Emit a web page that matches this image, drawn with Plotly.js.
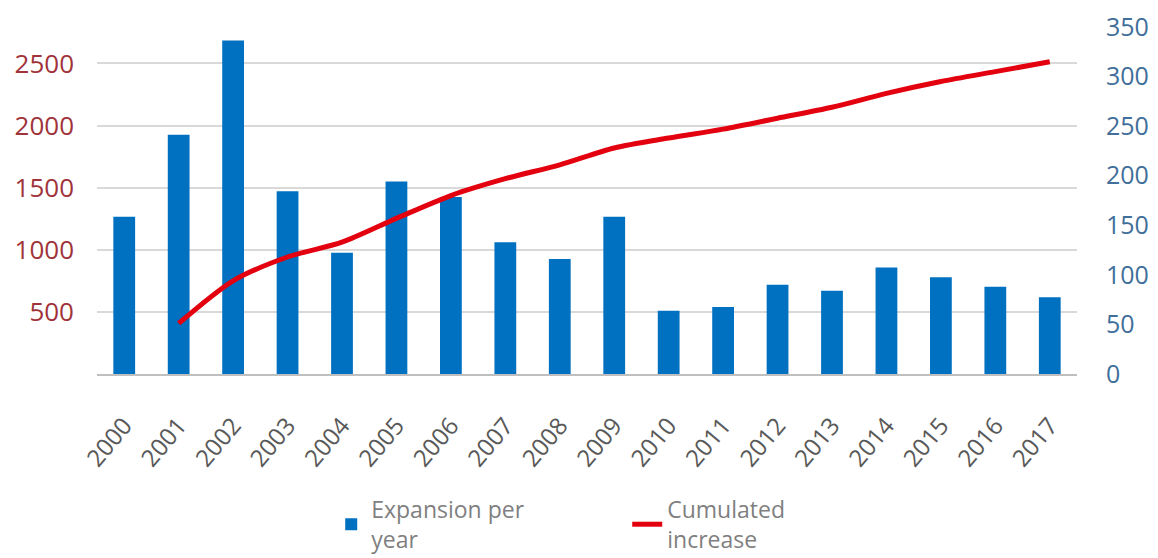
<!DOCTYPE html>
<html>
<head>
<meta charset="utf-8">
<script src="https://cdn.plot.ly/plotly-3.0.1.min.js"></script>
<style>
  html, body { margin: 0; padding: 0; background: #ffffff; }
  #chart { width: 1158px; height: 558px; }
</style>
</head>
<body>
<div id="chart"></div>
<script>
const years = ["2000","2001","2002","2003","2004","2005","2006","2007","2008","2009","2010","2011","2012","2013","2014","2015","2016","2017"];
const expansionPerYear = [1265, 1925, 2685, 1470, 975, 1550, 1425, 1060, 925, 1265, 510, 540, 718, 670, 857, 778, 702, 617];
const cumulatedIncrease = [null, 51, 94, 118, 133, 157, 180, 197, 211, 228, 238, 247, 258, 269, 283, 295, 305, 315];
const leftTicks = [500, 1000, 1500, 2000, 2500];
const rightTicks = [0, 50, 100, 150, 200, 250, 300, 350];

const FONT = "'Open Sans', 'Liberation Sans', sans-serif";

const traces = [
  {
    type: "bar",
    name: "Expansion per<br>year",
    x: years,
    y: expansionPerYear,
    width: 0.4,
    marker: { color: "#0070C0" },
    yaxis: "y"
  },
  {
    type: "scatter",
    mode: "lines",
    name: "Cumulated<br>increase",
    x: years,
    y: cumulatedIncrease,
    line: { color: "#E3000F", width: 5, shape: "spline", smoothing: 0.8 },
    yaxis: "y2"
  }
];

const layout = {
  width: 1158,
  height: 558,
  margin: { l: 97, r: 81, t: 27, b: 183.5, autoexpand: false },
  paper_bgcolor: "#ffffff",
  plot_bgcolor: "#ffffff",
  font: { family: FONT, size: 24, color: "#595959" },
  showlegend: true,
  legend: {
    orientation: "h",
    x: 0.239,
    xanchor: "left",
    y: -0.328,
    yanchor: "top",
    font: { family: FONT, size: 23, color: "#7f7f7f" },
    entrywidth: 251,
    traceorder: "normal"
  },
  xaxis: {
    type: "category",
    tickangle: -50,
    tickfont: { family: FONT, size: 24, color: "#595959" },
    showgrid: false,
    showline: true,
    linecolor: "#bfbfbf",
    linewidth: 2,
    ticks: "",
    ticklabelstandoff: 26,
    zeroline: false
  },
  yaxis: {
    range: [0, 2793],
    tickvals: leftTicks,
    ticktext: leftTicks.map(String),
    tickfont: { family: FONT, size: 26, color: "#a0333a" },
    showgrid: true,
    gridcolor: "#d9d9d9",
    gridwidth: 2,
    zeroline: false,
    showline: false,
    ticks: "",
    ticklabelstandoff: 22
  },
  yaxis2: {
    overlaying: "y",
    side: "right",
    range: [0, 350],
    tickvals: rightTicks,
    ticktext: rightTicks.map(String),
    tickfont: { family: FONT, size: 25, color: "#3f6f9a" },
    showgrid: false,
    zeroline: false,
    showline: false,
    ticks: "",
    ticklabelstandoff: 28
  },
  bargap: 0.6
};

Plotly.newPlot("chart", traces, layout, { displayModeBar: false, staticPlot: true });
</script>
</body>
</html>
